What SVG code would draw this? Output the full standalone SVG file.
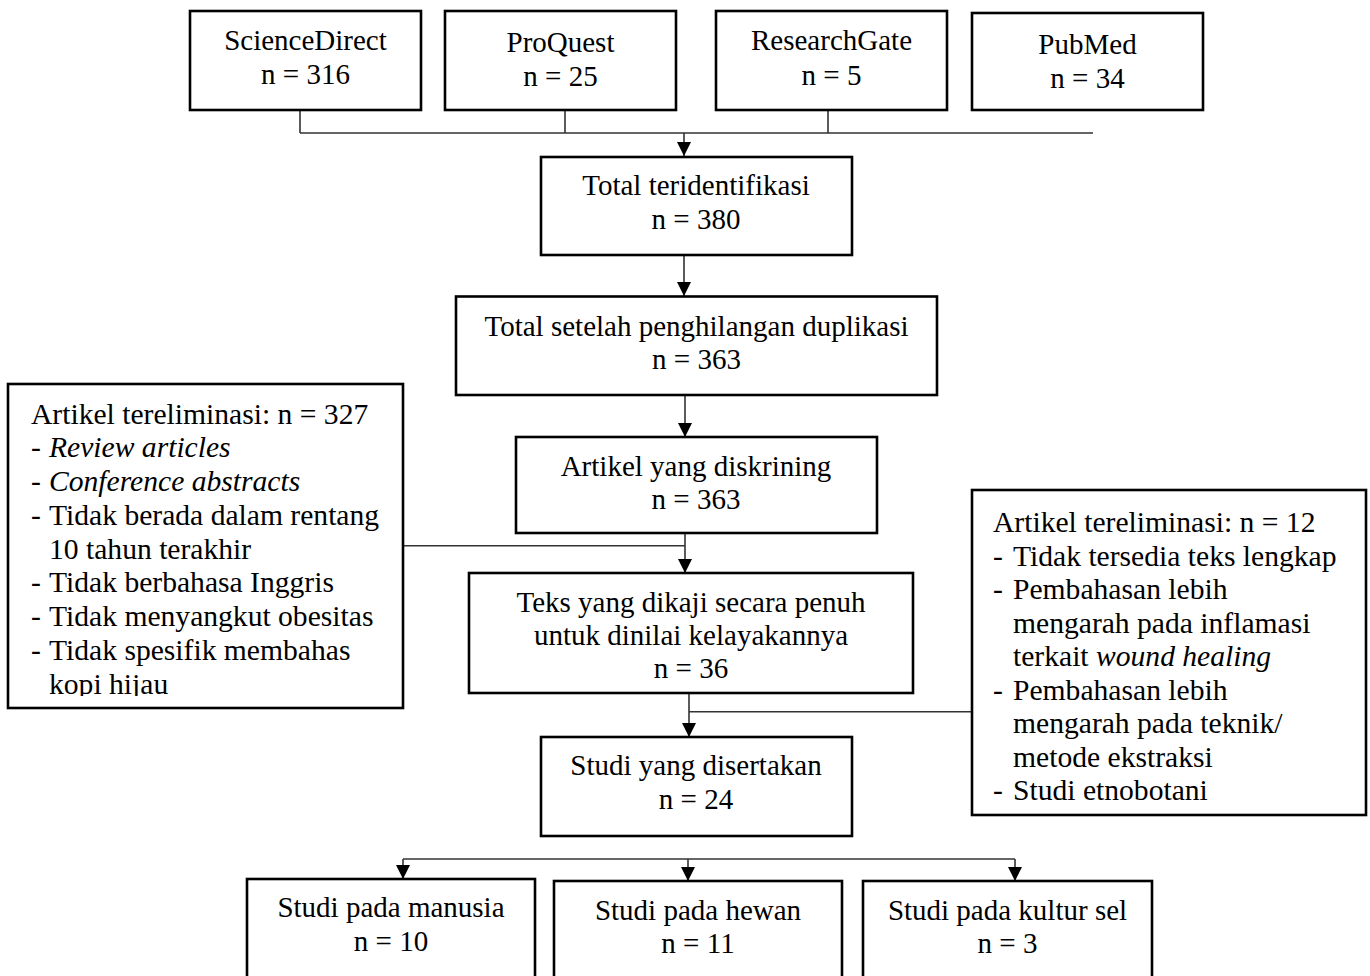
<svg xmlns="http://www.w3.org/2000/svg" width="1370" height="976" viewBox="0 0 1370 976">
<style>
  .box { fill: #fff; stroke: #000; stroke-width: 2.6; }
  .ln { fill: none; stroke: #333; stroke-width: 1.6; }
  .t { font-family: "Liberation Serif", "Times New Roman", serif; font-size: 29px; fill: #000; }
  .c { text-anchor: middle; }
  .s { font-family: "Liberation Serif", "Times New Roman", serif; font-size: 29.6px; fill: #000; }
  .i { font-style: italic; }
</style>
<defs>
  <marker id="ah" markerWidth="14" markerHeight="14" refX="14" refY="7" orient="auto" markerUnits="userSpaceOnUse">
    <path d="M0,0 L14,7 L0,14 z" fill="#000"/>
  </marker>
  <clipPath id="clipL"><rect x="0" y="380" width="410" height="316"/></clipPath>
</defs>
<rect width="1370" height="976" fill="#fff"/>

<g id="connectors">
  <path class="ln" d="M300,110 V133 M565,110 V133 M828,110 V133 M300,133 H1093"/>
  <path class="ln" d="M684,133 V156" marker-end="url(#ah)"/>
  <path class="ln" d="M684,255 V296" marker-end="url(#ah)"/>
  <path class="ln" d="M685,395 V437" marker-end="url(#ah)"/>
  <path class="ln" d="M685,533 V573" marker-end="url(#ah)"/>
  <path class="ln" d="M403,545.7 H685"/>
  <path class="ln" d="M689,693 V737" marker-end="url(#ah)"/>
  <path class="ln" d="M689,711.7 H972"/>
  <path class="ln" d="M403,859 H1015"/>
  <path class="ln" d="M403,859 V879" marker-end="url(#ah)"/>
  <path class="ln" d="M688,859 V881" marker-end="url(#ah)"/>
  <path class="ln" d="M1015,859 V881" marker-end="url(#ah)"/>
</g>

<g id="sciencedirect">
  <rect class="box" x="190" y="11" width="231" height="99"/>
  <text class="t c" x="305.5" y="50">ScienceDirect</text>
  <text class="t c" x="305.5" y="84">n = 316</text>
</g>
<g id="proquest">
  <rect class="box" x="445" y="11" width="231" height="99"/>
  <text class="t c" x="560.5" y="52">ProQuest</text>
  <text class="t c" x="560.5" y="86">n = 25</text>
</g>
<g id="researchgate">
  <rect class="box" x="716" y="11" width="231" height="99"/>
  <text class="t c" x="831.5" y="50">ResearchGate</text>
  <text class="t c" x="831.5" y="85">n = 5</text>
</g>
<g id="pubmed">
  <rect class="box" x="972" y="13" width="231" height="97"/>
  <text class="t c" x="1087.5" y="54">PubMed</text>
  <text class="t c" x="1087.5" y="88">n = 34</text>
</g>

<g id="total">
  <rect class="box" x="541" y="157" width="311" height="98"/>
  <text class="t c" x="696" y="195">Total teridentifikasi</text>
  <text class="t c" x="696" y="229">n = 380</text>
</g>
<g id="dedup">
  <rect class="box" x="456" y="296.5" width="481" height="98.5"/>
  <text class="t c" x="696.5" y="335.5">Total setelah penghilangan duplikasi</text>
  <text class="t c" x="696.5" y="368.5">n = 363</text>
</g>
<g id="screened">
  <rect class="box" x="516" y="437" width="361" height="96"/>
  <text class="t c" x="696" y="476">Artikel yang diskrining</text>
  <text class="t c" x="696" y="509">n = 363</text>
</g>
<g id="fulltext">
  <rect class="box" x="469" y="573" width="444" height="120"/>
  <text class="t c" x="691" y="612">Teks yang dikaji secara penuh</text>
  <text class="t c" x="691" y="645">untuk dinilai kelayakannya</text>
  <text class="t c" x="691" y="678">n = 36</text>
</g>
<g id="included">
  <rect class="box" x="541" y="737" width="311" height="99"/>
  <text class="t c" x="696" y="775">Studi yang disertakan</text>
  <text class="t c" x="696" y="809">n = 24</text>
</g>

<g id="excluded-left">
  <rect class="box" x="8" y="384" width="395" height="324"/>
  <g clip-path="url(#clipL)">
    <text class="s" x="31" y="423.5">Artikel tereliminasi: n = 327</text>
    <text class="s" y="457.3"><tspan x="31">-</tspan><tspan x="49" class="i">Review articles</tspan></text>
    <text class="s" y="491"><tspan x="31">-</tspan><tspan x="49" class="i">Conference abstracts</tspan></text>
    <text class="s" y="524.8"><tspan x="31">-</tspan><tspan x="49">Tidak berada dalam rentang</tspan></text>
    <text class="s" x="49" y="558.5">10 tahun terakhir</text>
    <text class="s" y="592.3"><tspan x="31">-</tspan><tspan x="49">Tidak berbahasa Inggris</tspan></text>
    <text class="s" y="626"><tspan x="31">-</tspan><tspan x="49">Tidak menyangkut obesitas</tspan></text>
    <text class="s" y="659.8"><tspan x="31">-</tspan><tspan x="49">Tidak spesifik membahas</tspan></text>
    <text class="s" x="49" y="693.5">kopi hijau</text>
  </g>
</g>

<g id="excluded-right">
  <rect class="box" x="972" y="490" width="394" height="325"/>
  <text class="s" x="993" y="532">Artikel tereliminasi: n = 12</text>
  <text class="s" y="565.5"><tspan x="993">-</tspan><tspan x="1013">Tidak tersedia teks lengkap</tspan></text>
  <text class="s" y="599"><tspan x="993">-</tspan><tspan x="1013">Pembahasan lebih</tspan></text>
  <text class="s" x="1013" y="632.5">mengarah pada inflamasi</text>
  <text class="s" x="1013" y="666">terkait <tspan class="i">wound healing</tspan></text>
  <text class="s" y="699.5"><tspan x="993">-</tspan><tspan x="1013">Pembahasan lebih</tspan></text>
  <text class="s" x="1013" y="733">mengarah pada teknik/</text>
  <text class="s" x="1013" y="766.5">metode ekstraksi</text>
  <text class="s" y="800"><tspan x="993">-</tspan><tspan x="1013">Studi etnobotani</tspan></text>
</g>

<g id="human">
  <rect class="box" x="247" y="879" width="288" height="110"/>
  <text class="t c" x="391" y="917">Studi pada manusia</text>
  <text class="t c" x="391" y="951">n = 10</text>
</g>
<g id="animal">
  <rect class="box" x="554" y="881" width="288" height="110"/>
  <text class="t c" x="698" y="920">Studi pada hewan</text>
  <text class="t c" x="698" y="953">n = 11</text>
</g>
<g id="cell">
  <rect class="box" x="863" y="881" width="289" height="110"/>
  <text class="t c" x="1007.5" y="920">Studi pada kultur sel</text>
  <text class="t c" x="1007.5" y="953">n = 3</text>
</g>
</svg>
